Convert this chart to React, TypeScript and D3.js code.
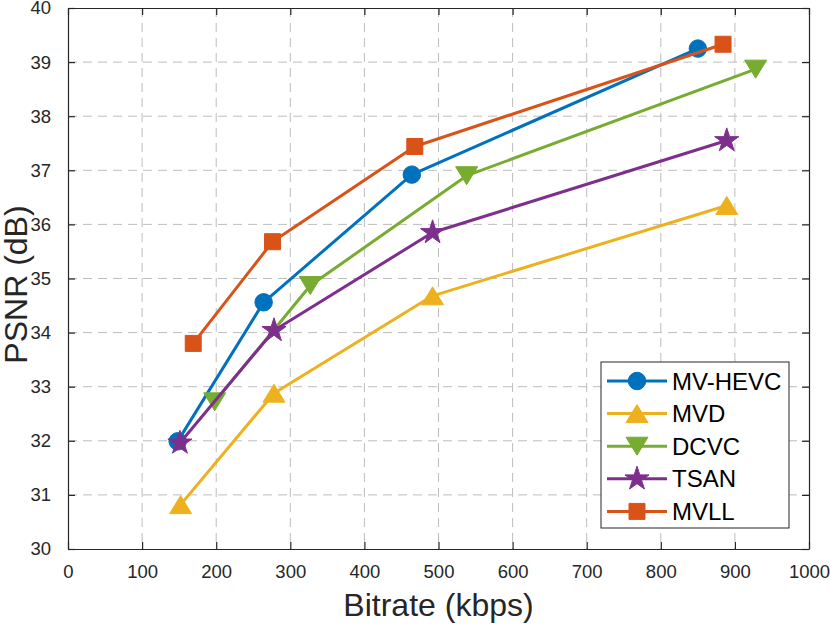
import React, { useEffect, useRef } from "react";
import * as d3 from "d3";

// values
const xTicks = [0, 100, 200, 300, 400, 500, 600, 700, 800, 900, 1000];
const yTicks = [30, 31, 32, 33, 34, 35, 36, 37, 38, 39, 40];

const seriesNames = ["MV-HEVC", "MVD", "DCVC", "TSAN", "MVLL"];
const seriesColors = ["#0072BD", "#EDB120", "#77AC30", "#7E2F8E", "#D95319"];
const seriesMarkers = ["circle", "triangleUp", "triangleDown", "star", "square"];

const bitrateHevc = [148, 264, 464, 850];
const psnrHevc = [31.99, 34.56, 36.92, 39.25];
const bitrateMvd = [152, 278, 492, 889];
const psnrMvd = [30.82, 32.88, 34.68, 36.35];
const bitrateDcvc = [198, 327, 538, 928];
const psnrDcvc = [32.72, 34.87, 36.9, 38.87];
const bitrateTsan = [151, 278, 492, 889];
const psnrTsan = [31.96, 34.04, 35.85, 37.55];
const bitrateMvll = [169, 276, 468, 884];
const psnrMvll = [33.8, 35.68, 37.44, 39.33];

const bitrates = [bitrateHevc, bitrateMvd, bitrateDcvc, bitrateTsan, bitrateMvll];
const psnrs = [psnrHevc, psnrMvd, psnrDcvc, psnrTsan, psnrMvll];

const FONT = "'Liberation Sans', Arial, Helvetica, sans-serif";
const AXIS_COLOR = "#262626";

const margin = { top: 8, right: 21, bottom: 77, left: 68 },
  width = 830 - margin.left - margin.right,
  height = 626 - margin.top - margin.bottom;

const markerPath = (kind: string) => {
  switch (kind) {
    case "circle":
      return d3.symbol(d3.symbolCircle, 240)()!;
    case "square":
      return "M-8,-8H8V8H-8Z";
    case "triangleUp":
      return "M0,-9L11,9L-11,9Z";
    case "triangleDown":
      return "M0,9L11,-9L-11,-9Z";
    case "star":
      return d3.symbol(d3.symbolStar, 180)()!;
  }
  return "";
};

const Marker = ({ kind, color, x, y }: { kind: string; color: string; x: number; y: number }) => (
  <path d={markerPath(kind)} transform={`translate(${x},${y})`} fill={color} stroke={color} strokeWidth={1} />
);

export default function App() {
  const xAxisRef = useRef<SVGGElement>(null);
  const yAxisRef = useRef<SVGGElement>(null);
  const xTopRef = useRef<SVGGElement>(null);
  const yRightRef = useRef<SVGGElement>(null);

  const x = d3.scaleLinear().domain([0, 1000]).range([0, width]);
  const y = d3.scaleLinear().domain([30, 40]).range([height, 0]);

  useEffect(() => {
    const styleAxis = (g: d3.Selection<SVGGElement, unknown, null, undefined>) => {
      g.select(".domain").attr("stroke", AXIS_COLOR).attr("stroke-width", 1.2);
      g.selectAll(".tick line").attr("stroke", AXIS_COLOR).attr("stroke-width", 1.2);
      g.selectAll(".tick text")
        .attr("fill", AXIS_COLOR)
        .style("font-family", FONT)
        .style("font-size", "18.5px");
    };

    d3.select(xAxisRef.current!)
      .call(
        d3.axisBottom(x).tickValues(xTicks).tickFormat(d3.format("d")).tickSizeInner(-7).tickSizeOuter(0).tickPadding(16)
      )
      .call(styleAxis);
    d3.select(yAxisRef.current!)
      .call(d3.axisLeft(y).tickValues(yTicks).tickFormat(d3.format("d")).tickSizeInner(-7).tickSizeOuter(0).tickPadding(17))
      .call(styleAxis);
    d3.select(xTopRef.current!)
      .call(d3.axisTop(x).tickValues(xTicks).tickSizeInner(-7).tickSizeOuter(0).tickFormat(() => ""))
      .call(styleAxis);
    d3.select(yRightRef.current!)
      .call(d3.axisRight(y).tickValues(yTicks).tickSizeInner(-7).tickSizeOuter(0).tickFormat(() => ""))
      .call(styleAxis);
  }, []);

  const line = d3
    .line<[number, number]>()
    .x((d) => x(d[0]))
    .y((d) => y(d[1]));

  const legend = { x: 601 - margin.left, y: 362 - margin.top, w: 188, h: 166, row: 32.6 };

  return (
    <svg width={830} height={626} style={{ position: "absolute", left: 0, top: 0, background: "#fff" }}>
      <g transform={`translate(${margin.left},${margin.top})`}>
        {/* grid */}
        {xTicks.slice(1, -1).map((t) => (
          <line key={"gx" + t} x1={x(t)} x2={x(t)} y1={0} y2={height} stroke="#bdbdbd" strokeWidth={1} strokeDasharray="9,6" />
        ))}
        {yTicks.slice(1, -1).map((t) => (
          <line key={"gy" + t} x1={0} x2={width} y1={y(t)} y2={y(t)} stroke="#bdbdbd" strokeWidth={1} strokeDasharray="9,6" />
        ))}

        <g ref={xAxisRef} transform={`translate(0,${height})`} />
        <g ref={yAxisRef} />
        <g ref={xTopRef} />
        <g ref={yRightRef} transform={`translate(${width},0)`} />

        {/* series */}
        {seriesNames.map((name, i) => {
          const pts = bitrates[i].map((b, j) => [b, psnrs[i][j]] as [number, number]);
          return (
            <g key={name}>
              <path d={line(pts)!} fill="none" stroke={seriesColors[i]} strokeWidth={3} strokeLinejoin="round" />
              {pts.map((p, j) => (
                <Marker key={j} kind={seriesMarkers[i]} color={seriesColors[i]} x={x(p[0])} y={y(p[1])} />
              ))}
            </g>
          );
        })}

        {/* legend */}
        <g transform={`translate(${legend.x},${legend.y})`}>
          <rect width={legend.w} height={legend.h} fill="#fff" stroke={AXIS_COLOR} strokeWidth={1} />
          {seriesNames.map((name, i) => {
            const cy = 19 + i * legend.row;
            return (
              <g key={name} transform={`translate(0,${cy})`}>
                <line x1={6} x2={66} y1={0} y2={0} stroke={seriesColors[i]} strokeWidth={3} />
                <Marker kind={seriesMarkers[i]} color={seriesColors[i]} x={36} y={0} />
                <text x={71} y={0} dy="0.36em" fontFamily={FONT} fontSize={24} fill="#000">
                  {name}
                </text>
              </g>
            );
          })}
        </g>

        {/* axis titles */}
        <text
          x={width / 2}
          y={height + 67}
          textAnchor="middle"
          fontFamily={FONT}
          fontSize={32}
          fill={AXIS_COLOR}
        >
          Bitrate (kbps)
        </text>
        <text
          transform={`translate(${-41},${height / 2 + 6}) rotate(-90)`}
          textAnchor="middle"
          fontFamily={FONT}
          fontSize={32}
          fill={AXIS_COLOR}
        >
          PSNR (dB)
        </text>
      </g>
    </svg>
  );
}
